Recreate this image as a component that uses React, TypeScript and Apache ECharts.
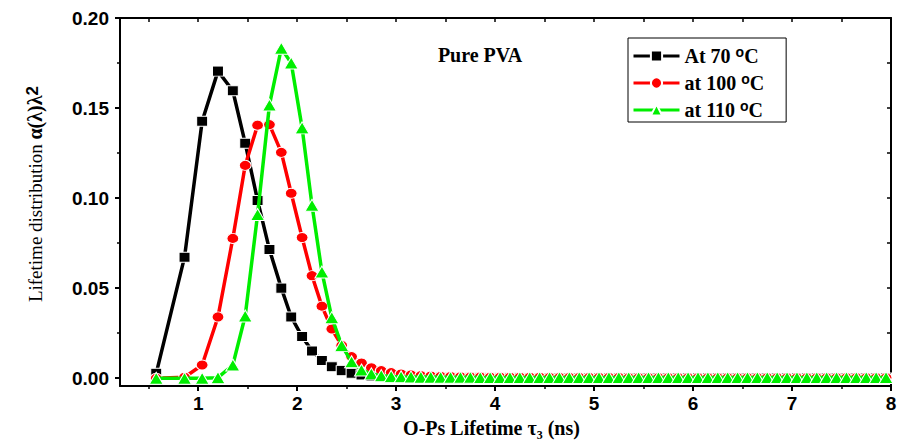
import React, { useEffect, useRef } from 'react';
import * as echarts from 'echarts';

// O-Ps lifetime grid (ns)
const TAU = [
  0.576, 0.862, 1.04, 1.2, 1.35, 1.475, 1.6, 1.72, 1.84, 1.94, 2.05, 2.15, 2.25, 2.35, 2.45,
  2.55, 2.65, 2.75, 2.85, 2.95, 3.05, 3.15, 3.25, 3.35, 3.45, 3.55, 3.65, 3.75, 3.85, 3.95,
  4.05, 4.15, 4.25, 4.35, 4.45, 4.55, 4.65, 4.75, 4.85, 4.95, 5.05, 5.15, 5.25, 5.35, 5.45,
  5.55, 5.65, 5.75, 5.85, 5.95, 6.05, 6.15, 6.25, 6.35, 6.45, 6.55, 6.65, 6.75, 6.85, 6.95,
  7.05, 7.15, 7.25, 7.35, 7.45, 7.55, 7.65, 7.75, 7.85, 7.95,
];

const AT_70 = [
  0.0027, 0.0672, 0.1427, 0.1705, 0.1596, 0.1305, 0.0987, 0.0714, 0.05, 0.034, 0.0231, 0.0151, 0.0098, 0.0064, 0.0042,
  0.0027, 0.0018, 0.0012, 0.0009, 0.0007, 0.0005, 0.0004, 0.0004, 0.0003, 0.0003, 0.0003, 0.0002, 0.0002, 0.0002, 0.0002,
  0.0002, 0.0002, 0.0002, 0.0001, 0.0001, 0.0001, 0.0001, 0.0001, 0.0001, 0.0001, 0.0001, 0.0001, 0.0001, 0.0001, 0.0001,
  0.0001, 0.0001, 0.0001, 0.0001, 0.0001, 0.0001, 0.0001, 0.0001, 0.0001, 0.0001, 0.0001, 0.0001, 0.0001, 0.0001, 0.0001,
  0.0001, 0.0001, 0.0001, 0.0001, 0.0001, 0.0001, 0.0001, 0.0001, 0.0001, 0.0001,
];

const AT_100 = [
  0.0, 0.0005, 0.0073, 0.034, 0.0776, 0.1182, 0.1405, 0.1408, 0.1254, 0.1027, 0.0781, 0.0569, 0.04, 0.0273, 0.0182,
  0.012, 0.0084, 0.0058, 0.0042, 0.0031, 0.0023, 0.0018, 0.0014, 0.0012, 0.001, 0.0009, 0.0008, 0.0007, 0.0007, 0.0006,
  0.0006, 0.0005, 0.0005, 0.0005, 0.0005, 0.0004, 0.0004, 0.0004, 0.0004, 0.0004, 0.0004, 0.0004, 0.0004, 0.0003, 0.0003,
  0.0003, 0.0003, 0.0003, 0.0003, 0.0003, 0.0003, 0.0003, 0.0003, 0.0003, 0.0003, 0.0003, 0.0003, 0.0003, 0.0003, 0.0003,
  0.0003, 0.0003, 0.0003, 0.0003, 0.0003, 0.0003, 0.0003, 0.0003, 0.0003, 0.0003,
];

const AT_110 = [
  0.0, 0.0, 0.0, 0.0003, 0.0073, 0.0345, 0.0909, 0.1517, 0.1832, 0.175, 0.139, 0.096, 0.059, 0.0336, 0.0182,
  0.0091, 0.0045, 0.0024, 0.0014, 0.001, 0.0008, 0.0007, 0.0006, 0.0006, 0.0005, 0.0005, 0.0005, 0.0005, 0.0004, 0.0004,
  0.0004, 0.0004, 0.0004, 0.0004, 0.0004, 0.0004, 0.0004, 0.0004, 0.0004, 0.0004, 0.0004, 0.0004, 0.0004, 0.0004, 0.0004,
  0.0004, 0.0004, 0.0004, 0.0004, 0.0004, 0.0004, 0.0004, 0.0004, 0.0004, 0.0004, 0.0004, 0.0004, 0.0004, 0.0004, 0.0004,
  0.0004, 0.0004, 0.0004, 0.0004, 0.0004, 0.0004, 0.0004, 0.0004, 0.0004, 0.0004,
];

const SERIES_NAMES = ['At 70 °C', 'at 100 °C', 'at 110 °C'];
const X_TICKS = [1, 2, 3, 4, 5, 6, 7, 8];
const X_MINOR = [0.5, 1.5, 2.5, 3.5, 4.5, 5.5, 6.5, 7.5];
const X_TOP = [0.5, 1, 1.5, 2, 2.5, 3, 3.5, 4, 4.5, 5, 5.5, 6, 6.5, 7, 7.5];
const Y_TICKS = [0, 0.05, 0.1, 0.15, 0.2];
const Y_MINOR = [0.025, 0.075, 0.125, 0.175];
const Y_RIGHT = [0.025, 0.05, 0.075, 0.1, 0.125, 0.15, 0.175];

const X_MIN = 0.21;
const X_MAX = 8;
const Y_MIN = -0.0044;
const Y_MAX = 0.2;

const pairs = (ys: number[]) => TAU.map((x, i) => [x, ys[i]]);

export default function App() {
  const ref = useRef<HTMLDivElement>(null);
  useEffect(() => {
    if (!ref.current) return;
    const chart = echarts.init(ref.current, null, { renderer: 'svg' });
    const axisColor = '#000';
    const labelFont = {
      fontFamily: 'Liberation Sans',
      fontWeight: 'bold' as const,
      fontSize: 19,
      color: '#000',
    };
    const baseX = {
      type: 'value' as const,
      min: X_MIN,
      max: X_MAX,
      splitLine: { show: false },
      gridIndex: 0,
    };
    const baseY = {
      type: 'value' as const,
      min: Y_MIN,
      max: Y_MAX,
      splitLine: { show: false },
      gridIndex: 0,
    };
    const colors = ['#000000', '#ff0000', '#00ee00'];
    const symbols = ['rect', 'circle', 'triangle'];
    const sizes: any[] = [[11, 10], [12, 10], [14, 12]];
    const datas = [AT_70, AT_100, AT_110];

    chart.setOption({
      animation: false,
      grid: { left: 120, right: 11, top: 18, bottom: 50, containLabel: false },
      title: { show: false },
      legend: {
        orient: 'vertical',
        left: 628,
        top: 38,
        padding: [7, 22, 2, 4],
        itemWidth: 46,
        itemHeight: 14,
        itemGap: 6,
        borderColor: '#000',
        borderWidth: 1,
        borderRadius: 0,
        lineStyle: { width: 3 },
        data: SERIES_NAMES,
        formatter: (name: string) => `{t|${name.replace(' °C', '')} }{s|o}{t|C}`,
        textStyle: {
          fontFamily: 'Liberation Serif',
          fontWeight: 'bold',
          fontSize: 20,
          color: '#000',
          rich: {
            t: { fontFamily: 'Liberation Serif', fontWeight: 'bold', fontSize: 20, lineHeight: 22, color: '#000' },
            s: { fontFamily: 'Liberation Sans', fontWeight: 'bold', fontSize: 14, lineHeight: 12, verticalAlign: 'top', color: '#000' },
          },
        },
      },
      graphic: [
        {
          type: 'text',
          x: 480,
          y: 55,
          style: {
            text: 'Pure PVA',
            fontFamily: 'Liberation Serif',
            fontWeight: 'bold',
            fontSize: 20,
            fill: '#000',
            textAlign: 'center',
            textVerticalAlign: 'middle',
          },
        },
      ],
      xAxis: [
        {
          ...baseX,
          position: 'bottom',
          axisLine: { show: true, onZero: false, lineStyle: { color: axisColor, width: 2 } },
          axisTick: { show: true, inside: false, length: 5, customValues: X_TICKS, lineStyle: { color: axisColor, width: 2 } },
          axisLabel: { show: true, margin: 8, customValues: X_TICKS, ...labelFont },
          minorTick: { show: false },
          name: 'O-Ps Lifetime τ₃ (ns)',
          nameLocation: 'middle',
          nameGap: 21,
          nameTextStyle: {
            fontFamily: 'Liberation Serif',
            fontWeight: 'bold',
            fontSize: 20,
            color: '#000',
            padding: [0, 28, 0, 0],
          },
        },
        {
          ...baseX,
          position: 'bottom',
          axisLine: { show: false, onZero: false },
          axisTick: { show: true, inside: false, length: 3, customValues: X_MINOR, lineStyle: { color: axisColor, width: 1.5 } },
          axisLabel: { show: false },
        },
        {
          ...baseX,
          position: 'top',
          axisLine: { show: true, onZero: false, lineStyle: { color: axisColor, width: 2 } },
          axisTick: { show: true, inside: true, length: 4, customValues: X_TOP, lineStyle: { color: axisColor, width: 1.5 } },
          axisLabel: { show: false },
        },
      ],
      yAxis: [
        {
          ...baseY,
          position: 'left',
          axisLine: { show: true, onZero: false, lineStyle: { color: axisColor, width: 2 } },
          axisTick: { show: true, inside: false, length: 5, customValues: Y_TICKS, lineStyle: { color: axisColor, width: 2 } },
          axisLabel: {
            show: true,
            margin: 11,
            customValues: Y_TICKS,
            formatter: (v: number) => v.toFixed(2),
            ...labelFont,
          },
          name: 'Lifetime distribution {b|α(λ)λ}{p|2}',
          nameLocation: 'middle',
          nameRotate: 90,
          nameGap: 74,
          nameTextStyle: {
            fontFamily: 'Liberation Serif',
            fontSize: 19,
            color: '#000',
            padding: [0, 0, 0, 16],
            rich: {
              b: { fontFamily: 'Liberation Serif', fontWeight: 'bold', fontSize: 20, lineHeight: 22, color: '#000' },
              p: { fontFamily: 'Liberation Sans', fontWeight: 'bold', fontSize: 17, lineHeight: 14, verticalAlign: 'top', color: '#000' },
            },
          },
        },
        {
          ...baseY,
          position: 'left',
          axisLine: { show: false, onZero: false },
          axisTick: { show: true, inside: false, length: 3, customValues: Y_MINOR, lineStyle: { color: axisColor, width: 1.5 } },
          axisLabel: { show: false },
        },
        {
          ...baseY,
          position: 'right',
          axisLine: { show: true, onZero: false, lineStyle: { color: axisColor, width: 2 } },
          axisTick: { show: true, inside: true, length: 4, customValues: Y_RIGHT, lineStyle: { color: axisColor, width: 1.5 } },
          axisLabel: { show: false },
        },
      ],
      series: SERIES_NAMES.map((name, i) => ({
        name,
        type: 'line',
        xAxisIndex: 0,
        yAxisIndex: 0,
        data: pairs(datas[i]),
        symbol: symbols[i],
        symbolSize: sizes[i],
        showAllSymbol: true,
        lineStyle: { color: colors[i], width: 3.5 },
        itemStyle: { color: colors[i], borderColor: '#ffffff', borderWidth: 1 },
        emphasis: { disabled: true },
        z: 2 + i,
      })),
    });
    return () => chart.dispose();
  }, []);
  return (
    <div
      ref={ref}
      style={{ position: 'absolute', left: 0, top: 0, width: 902, height: 443, background: '#fff' }}
    />
  );
}
